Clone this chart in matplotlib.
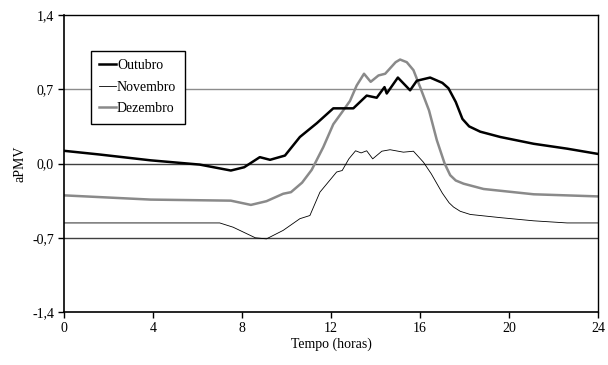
import numpy as np
import matplotlib
matplotlib.use("Agg")
import matplotlib.pyplot as plt

plt.rcParams['font.family'] = ['Liberation Serif', 'DejaVu Serif']

# values (hour, aPMV)
out_h = [0, 1.6, 3.9, 6.1, 7.5, 8.1, 8.8, 9.26, 9.93, 10.6, 11.36, 12.1, 13.0, 13.6, 14.05,
         14.4, 14.5, 15.0, 15.55, 15.85, 16.45, 17.0, 17.27, 17.6, 17.9, 18.2, 18.7, 19.6, 21.1, 22.6, 24]
out_v = [0.12, 0.085, 0.03, -0.01, -0.066, -0.035, 0.06, 0.035, 0.075, 0.25, 0.38, 0.52, 0.52, 0.64, 0.62,
         0.72, 0.66, 0.81, 0.69, 0.78, 0.81, 0.76, 0.71, 0.58, 0.42, 0.35, 0.30, 0.25, 0.186, 0.14, 0.09]

nov_h = [0, 7.0, 7.6, 8.2, 8.6, 9.1, 9.85, 10.6, 11.05, 11.5, 12.25, 12.5, 12.8, 13.1, 13.35,
         13.6, 13.87, 14.28, 14.65, 15.25, 15.7, 16.15, 16.5, 17.0, 17.3, 17.5, 17.8, 18.25, 19.6, 21.1, 22.6, 24]
nov_v = [-0.56, -0.56, -0.6, -0.66, -0.70, -0.71, -0.63, -0.52, -0.49, -0.27, -0.08, -0.066, 0.044, 0.12, 0.10,
         0.12, 0.044, 0.116, 0.13, 0.107, 0.116, 0.012, -0.097, -0.28, -0.37, -0.41, -0.45, -0.48, -0.51, -0.54, -0.56, -0.56]

dez_h = [0, 3.9, 7.5, 8.4, 9.1, 9.85, 10.2, 10.7, 11.13, 11.65, 12.1, 12.48, 12.85, 13.15, 13.48,
         13.78, 14.13, 14.43, 14.9, 15.1, 15.4, 15.7, 16.0, 16.4, 16.75, 17.1, 17.35, 17.6, 17.95, 18.85, 21.1, 24]
dez_v = [-0.30, -0.34, -0.35, -0.39, -0.355, -0.285, -0.27, -0.18, -0.06, 0.154, 0.37, 0.48, 0.59, 0.735, 0.846,
         0.77, 0.83, 0.846, 0.955, 0.98, 0.955, 0.88, 0.72, 0.50, 0.22, 0.0, -0.11, -0.16, -0.19, -0.24, -0.29, -0.31]

yticks = [-1.4, -0.7, 0.0, 0.7, 1.4]
ylabels = ['-1,4', '-0,7', '0,0', '0,7', '1,4']
xticks = [0, 4, 8, 12, 16, 20, 24]

fig = plt.figure(figsize=(6.08, 3.65), dpi=100)
ax = fig.add_axes([0.105, 0.145, 0.879, 0.814])

# horizontal grid
ax.axhline(0.7, color='#8c8c8c', lw=1.0, zorder=1)
ax.axhline(0.0, color='#404040', lw=1.0, zorder=1)
ax.axhline(-0.7, color='#404040', lw=1.0, zorder=1)

ax.plot(out_h, out_v, color='black', lw=1.8, label='Outubro', zorder=3)
ax.plot(nov_h, nov_v, color='black', lw=0.6, label='Novembro', zorder=3)
ax.plot(dez_h, dez_v, color='#8a8a8a', lw=1.8, label='Dezembro', zorder=2)

ax.set_xlim(0, 24)
ax.set_ylim(-1.4, 1.4)
ax.set_xticks(xticks)
ax.set_yticks(yticks)
ax.set_yticklabels(ylabels)
ax.tick_params(direction='out', length=4, width=1, labelsize=10, pad=3)
for s in ax.spines.values():
    s.set_linewidth(1.0)
ax.spines['left'].set_linewidth(1.2)
ax.spines['bottom'].set_linewidth(1.2)

ax.set_xlabel('Tempo (horas)', fontsize=10, labelpad=2)
ax.set_ylabel('aPMV', fontsize=10, labelpad=4)

leg = ax.legend(loc='upper left', bbox_to_anchor=(0.05, 0.88), borderaxespad=0,
                fontsize=10, handlelength=1.2, handletextpad=0.1, fancybox=False,
                framealpha=1, edgecolor='black', borderpad=0.6, labelspacing=0.62)
leg.get_frame().set_linewidth(1.0)

fig.savefig('out.png', dpi=100)
